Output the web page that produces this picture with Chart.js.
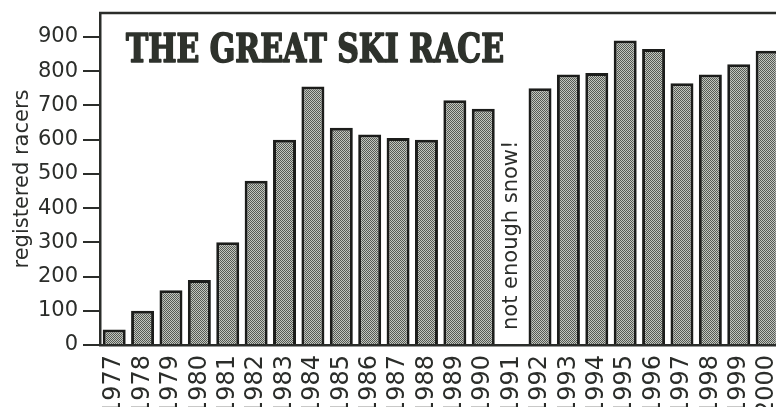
<!DOCTYPE html>
<html>
<head>
<meta charset="utf-8">
<script src="https://cdn.jsdelivr.net/npm/chart.js@4.4.1/dist/chart.umd.min.js"></script>
<style>
    html, body { margin: 0; padding: 0; overflow: hidden; background: #fff; }
    #wrap { width: 806px; height: 407px; }
</style>
</head>
<body>
<div id="wrap"><canvas id="SkiChart" width="806" height="407"></canvas></div>
<script>

const yearLabels = ['1977','1978','1979','1980','1981','1982','1983','1984','1985','1986','1987','1988',
    '1989','1990','1991','1992','1993','1994','1995','1996','1997','1998','1999','2000'];
const racerCounts = [45, 100, 160, 190, 300, 480, 600, 755, 635, 615, 605, 600,
    715, 690, null, 750, 790, 795, 890, 865, 765, 790, 820, 860];
const yTickValues = [0, 100, 200, 300, 400, 500, 600, 700, 800, 900];
const chartTitle = 'THE GREAT SKI RACE';
const noSnowYear = '1991';
const noSnowNote = 'not enough snow!';

const inkColor = '#2b2d2a';

function makeHalftone(ctx){
    // small dotted tile, like the printed screen in the bars
    const tile = document.createElement('canvas');
    tile.width = 2;
    tile.height = 2;
    const t = tile.getContext('2d');
    t.fillStyle = '#c2c6bf';
    t.fillRect(0, 0, 2, 2);
    t.fillStyle = '#565a54';
    t.fillRect(0, 0, 1, 1);
    t.fillRect(1, 1, 1, 1);
    return ctx.createPattern(tile, 'repeat');
}

const frameAndNotes = {
    id: 'frameAndNotes',
    afterDraw(chart){
        const ctx = chart.ctx;
        const area = chart.chartArea;
        const x = chart.scales.x;

        ctx.save();
        // top frame line
        ctx.strokeStyle = inkColor;
        ctx.lineWidth = 2.5;
        ctx.beginPath();
        ctx.moveTo(area.left - 1, area.top);
        ctx.lineTo(area.right, area.top);
        ctx.stroke();

        // headline inside the plot, stroked a bit to look heavier
        ctx.fillStyle = '#2e322c';
        ctx.strokeStyle = '#2e322c';
        ctx.lineWidth = 1.6;
        ctx.lineJoin = 'round';
        ctx.font = 'bold 39px "DejaVu Serif Condensed", "DejaVu Serif", serif';
        ctx.textBaseline = 'alphabetic';
        const w = ctx.measureText(chartTitle).width;
        ctx.translate(area.left + 26, 62);
        ctx.scale(378 / w, 1);
        ctx.fillText(chartTitle, 0, 0);
        ctx.strokeText(chartTitle, 0, 0);
        ctx.restore();

        // note for the missing year
        ctx.save();
        ctx.fillStyle = inkColor;
        ctx.font = '21px "DejaVu Sans", sans-serif';
        ctx.textAlign = 'left';
        ctx.textBaseline = 'middle';
        ctx.translate(x.getPixelForValue(yearLabels.indexOf(noSnowYear)), area.bottom - 15);
        ctx.rotate(-Math.PI / 2);
        ctx.fillText(noSnowNote, 0, 0);
        ctx.restore();
    }
};

function initiateSkiChart(){
    const grapharea = document.getElementById('SkiChart').getContext('2d');

    let skiChart = new Chart(grapharea, {
        type: 'bar',
        data: {
            labels: yearLabels,
            datasets: [{
                data: racerCounts,
                backgroundColor: makeHalftone(grapharea),
                borderColor: '#1c1d1b',
                borderWidth: 3,
                borderSkipped: 'start',
                barPercentage: 0.81,
                categoryPercentage: 1
            }]
        },
        options: {
            responsive: false,
            animation: false,
            layout: { padding: { top: 13, right: 3, left: 0, bottom: 0 } },
            plugins: {
                legend: { display: false },
                tooltip: { enabled: false }
            },
            scales: {
                x: {
                    grid: { display: false, drawTicks: false },
                    border: { display: true, color: inkColor, width: 2.5 },
                    ticks: {
                        color: inkColor,
                        font: { family: 'DejaVu Sans', size: 24 },
                        minRotation: 90,
                        maxRotation: 90,
                        padding: 10,
                        autoSkip: false
                    },
                    afterFit(scale){ scale.height = 62; }
                },
                y: {
                    min: 0,
                    max: 970,
                    grid: {
                        drawOnChartArea: false,
                        drawTicks: true,
                        tickLength: 17,
                        color: inkColor,
                        lineWidth: 2
                    },
                    border: { display: true, color: inkColor, width: 2.5 },
                    ticks: {
                        stepSize: 100,
                        color: inkColor,
                        font: { family: 'DejaVu Sans', size: 21 },
                        padding: 5
                    },
                    afterBuildTicks(scale){
                        scale.ticks = yTickValues.map(v => ({ value: v }));
                    },
                    title: {
                        display: true,
                        text: 'registered racers',
                        color: inkColor,
                        font: { family: 'DejaVu Sans', size: 21 },
                        padding: { top: 10, bottom: 4 }
                    },
                    afterFit(scale){
                        scale.width = 100;
                        scale.paddingTop = 0;
                        scale.paddingBottom = 0;
                    }
                }
            }
        },
        plugins: [frameAndNotes]
    });
    return skiChart;
}

initiateSkiChart();
</script>
</body>
</html>
